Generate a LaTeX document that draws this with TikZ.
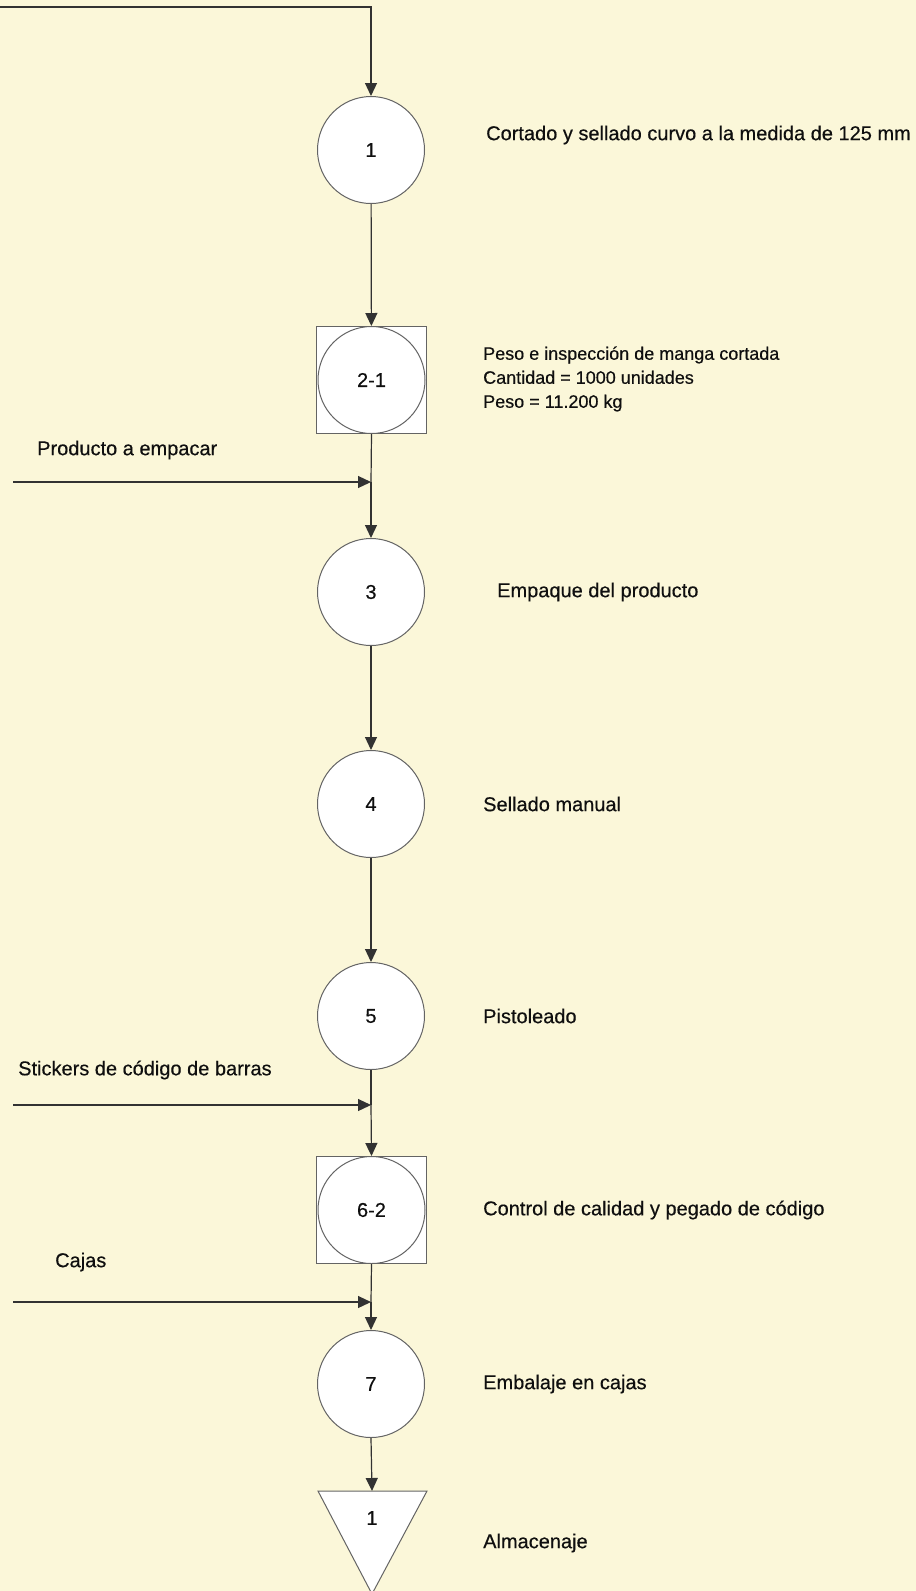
\documentclass[tikz,border=0pt]{standalone}
\usepackage{fontspec}
\setmainfont{Liberation Sans}
\newfontfamily\lblfont{Liberation Sans}[FakeBold=0.4]
\usetikzlibrary{arrows.meta}
\definecolor{paper}{RGB}{251,247,217}
\definecolor{ink}{RGB}{50,50,50}
\definecolor{rim}{RGB}{100,100,100}
\definecolor{txt}{RGB}{15,15,15}
\newcommand{\lbl}{\lblfont\fontsize{20}{24}\selectfont}
\newcommand{\lblsmall}{\lblfont\fontsize{18}{24}\selectfont}
\begin{document}
\begin{tikzpicture}[x=1pt,y=1pt,
  op/.style={circle, draw=rim, fill=white, line width=1pt, minimum size=107pt,
    inner sep=0pt, font=\lbl, text=txt},
  insp/.style={rectangle, draw=rim, fill=white, line width=1pt,
    minimum width=110pt, minimum height=107pt, inner sep=0pt, font=\lbl, text=txt,
    path picture={\draw[rim, line width=1pt]
      (path picture bounding box.center) circle (53.5pt);}},
  flow/.style={draw=ink, line width=1.2pt, -{Triangle[length=13pt,width=12pt]}},
  note/.style={anchor=west, inner sep=0pt, text=txt, font=\lbl, align=left}]

% page and background
\useasboundingbox (0,0) rectangle (916,-1591);
\fill[paper] (0,0) rectangle (916,-1591);

% process symbols
\node[op]   (c1) at (371,-150)  {1};
\node[insp] (b2) at (371.5,-380) {2-1};
\node[op]   (c3) at (371,-592)  {3};
\node[op]   (c4) at (371,-804)  {4};
\node[op]   (c5) at (371,-1016) {5};
\node[insp] (b6) at (371.5,-1210) {6-2};
\node[op]   (c7) at (371,-1384) {7};

% storage triangle
\coordinate (t8) at (372,-1491);
\filldraw[fill=white, draw=rim, line width=1pt]
  (318,-1491) -- (427,-1491) -- (372,-1594) -- cycle;
\node[font=\lbl, text=txt] (t8n) at (372,-1518) {1};

% side inputs
\coordinate (in0) at (0,-7);
\coordinate (in1) at (13,-482);
\coordinate (j1)  at (371,-482);
\coordinate (in2) at (13,-1105);
\coordinate (j2)  at (371,-1105);
\coordinate (in3) at (13,-1302);
\coordinate (j3)  at (371,-1302);

% main flow
\draw[flow] (in0) -| (c1.north);
\draw[flow] (c1) -- (b2);
\draw[ink, line width=1.2pt] (b2.south) -- (j1);
\draw[flow] (j1) -- (c3.north);
\draw[flow] (c3) -- (c4);
\draw[flow] (c4) -- (c5);
\draw[ink, line width=1.2pt] (c5.south) -- (j2);
\draw[flow] (j2) -- (b6.north);
\draw[ink, line width=1.2pt] (b6.south) -- (j3);
\draw[flow] (j3) -- (c7.north);
\draw[flow] (c7.south) -- (t8);

% materials entering the line
\draw[flow] (in1) -- (j1);
\draw[flow] (in2) -- (j2);
\draw[flow] (in3) -- (j3);

% left labels
\node[note] (l1) at (37,-450)  {Producto a empacar};
\node[note] (l2) at (18,-1070) {Stickers de código de barras};
\node[note] (l3) at (55,-1262) {Cajas};

% step descriptions
\node[note] (d1) at (486,-135)  {Cortado y sellado curvo a la medida de 125 mm};
\node[note, font=\lblsmall] (d2) at (483,-379)
  {Peso e inspección de manga cortada\\Cantidad = 1000 unidades\\Peso = 11.200 kg};
\node[note] (d3) at (497,-592)  {Empaque del producto};
\node[note] (d4) at (483,-804)  {Sellado manual};
\node[note] (d5) at (483,-1016) {Pistoleado};
\node[note] (d6) at (483,-1210) {Control de calidad y pegado de código};
\node[note] (d7) at (483,-1384) {Embalaje en cajas};
\node[note] (d8) at (483,-1543) {Almacenaje};
\end{tikzpicture}
\end{document}
